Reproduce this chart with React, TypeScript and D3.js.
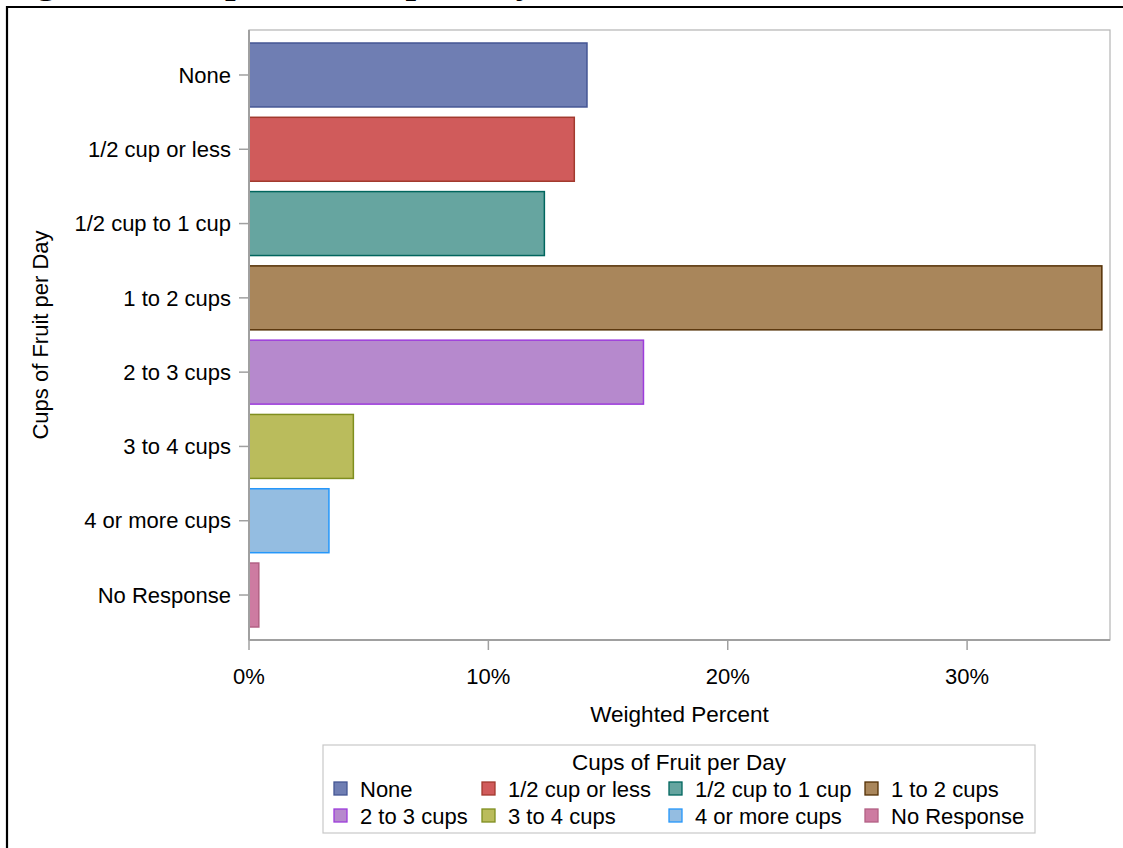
import React from "react";
import * as d3 from "d3";

const categories = ["None", "1/2 cup or less", "1/2 cup to 1 cup", "1 to 2 cups", "2 to 3 cups", "3 to 4 cups", "4 or more cups", "No Response"];
const values = [14.12, 13.59, 12.34, 35.63, 16.48, 4.36, 3.34, 0.41];
const fills = ["#6F7EB3", "#D05B5B", "#66A5A0", "#A9865B", "#B689CD", "#BABC5C", "#94BDE1", "#CD7BA1"];
const strokes = ["#445694", "#A23A2E", "#01665E", "#543005", "#9D3CDB", "#7F8E1F", "#2597FA", "#B26084"];
const xTicks = [0, 10, 20, 30];
const titleText = "Figure 12. Cups of Fruit per Day";

const W = 1123, H = 848;
const plot = { left: 249, right: 1110, top: 30, bottom: 640 };
const FONT = "'Liberation Sans', Arial, sans-serif";

export default function App() {
  const x = d3.scaleLinear().domain([0, 35.97]).range([plot.left, plot.right]);
  const y = d3.scaleBand<string>().domain(categories).range([plot.top, plot.bottom]).paddingInner(0.139).paddingOuter(0.175);

  const legendCols = [334, 482, 669, 865];
  const legendRows = [789, 816];

  return (
    <svg width={W} height={H} style={{ position: "absolute", left: 0, top: 0, background: "#fff" }} fontFamily={FONT}>
      <rect x={0} y={0} width={W} height={H} fill="#fff" />
      {/* clipped title */}
      <text x={3} y={-7} fontFamily="'Liberation Serif', 'DejaVu Serif', serif" fontWeight="bold" fontSize={38} fill="#000">{titleText}</text>
      {/* outer frame */}
      <path d={`M7,${H + 5} V7 H${W + 5}`} fill="none" stroke="#000" strokeWidth={2.2} />

      {/* plot border */}
      <rect x={plot.left} y={plot.top} width={plot.right - plot.left} height={plot.bottom - plot.top} fill="none" stroke="#B4B4B4" strokeWidth={1.2} />

      {/* bars */}
      {categories.map((c, i) => (
        <rect key={c} x={x(0)} y={y(c)!} width={x(values[i]) - x(0)} height={y.bandwidth()} fill={fills[i]} stroke={strokes[i]} strokeWidth={1.5} />
      ))}

      {/* y axis */}
      <line x1={plot.left} x2={plot.left} y1={plot.top} y2={plot.bottom} stroke="#A0A0A0" strokeWidth={2} />
      {categories.map((c) => {
        const cy = y(c)! + y.bandwidth() / 2;
        return (
          <g key={c}>
            <line x1={plot.left - 10} x2={plot.left} y1={cy} y2={cy} stroke="#A0A0A0" strokeWidth={1.5} />
            <text x={plot.left - 18} y={cy} dy="0.35em" textAnchor="end" fontSize={22} fill="#000">{c}</text>
          </g>
        );
      })}
      <text transform={`translate(48,${(plot.top + plot.bottom) / 2}) rotate(-90)`} textAnchor="middle" fontSize={22} fill="#000">Cups of Fruit per Day</text>

      {/* x axis */}
      <line x1={plot.left} x2={plot.right} y1={plot.bottom} y2={plot.bottom} stroke="#A0A0A0" strokeWidth={2} />
      {xTicks.map((t) => (
        <g key={t}>
          <line x1={x(t)} x2={x(t)} y1={plot.bottom} y2={plot.bottom + 10} stroke="#A0A0A0" strokeWidth={1.5} />
          <text x={x(t)} y={676} dy="0.35em" textAnchor="middle" fontSize={22} fill="#000">{t}%</text>
        </g>
      ))}
      <text x={(plot.left + plot.right) / 2} y={714} dy="0.35em" textAnchor="middle" fontSize={22.5} fill="#000">Weighted Percent</text>

      {/* legend */}
      <rect x={323} y={745} width={712} height={88} fill="#fff" stroke="#C8C8C8" strokeWidth={1.2} />
      <text x={679} y={762} dy="0.35em" textAnchor="middle" fontSize={22.5} fill="#000">Cups of Fruit per Day</text>
      {categories.map((c, i) => {
        const col = i % 4, row = Math.floor(i / 4);
        const lx = legendCols[col], ly = legendRows[row];
        return (
          <g key={c}>
            <rect x={lx} y={ly - 7} width={13} height={13} fill={fills[i]} stroke={strokes[i]} strokeWidth={1.3} />
            <text x={lx + 26} y={ly} dy="0.35em" fontSize={22} fill="#000">{c}</text>
          </g>
        );
      })}
    </svg>
  );
}
